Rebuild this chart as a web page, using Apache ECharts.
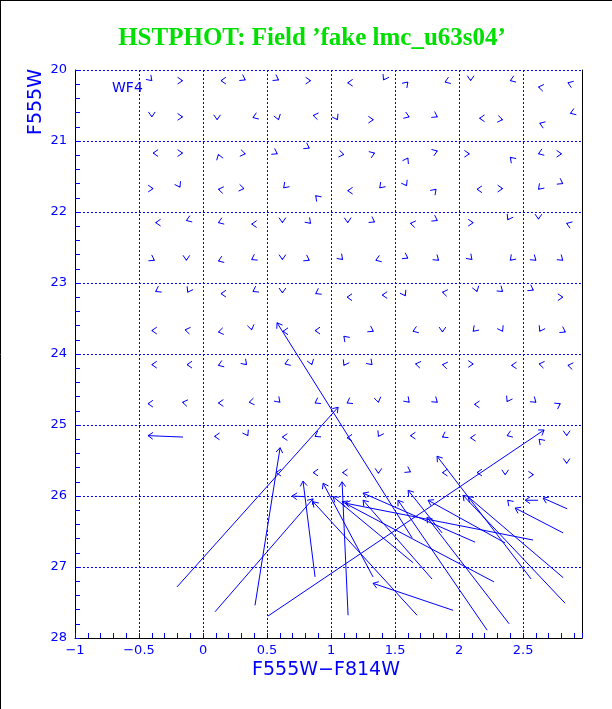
<!DOCTYPE html>
<html>
<head>
<meta charset="utf-8">
<script src="https://cdn.jsdelivr.net/npm/echarts@6/dist/echarts.min.js"></script>
<style>
html,body{margin:0;padding:0;background:#fff;}
#chart{width:612px;height:709px;}
</style>
</head>
<body>
<div id="chart"></div>
<script>
// ---- axis ticks ----
const xTicks = [-1, -0.5, 0, 0.5, 1, 1.5, 2, 2.5];
const yTicks = [20, 21, 22, 23, 24, 25, 26, 27, 28];

// ---- long arrows: tail (measured) -> head, colour F555W-F814W and magnitude F555W ----
const longTailC = [-0.203, 0.094, 0.406, 0.508, 0.875, 1.133, 1.953, 1.633, 2.563, 2.844, 2.813, 1.328, 1.672, 1.641, 2.273, 2.578, 2.125, 1.789, 2.219, 1.867, 2.391, 2.828, 2.813, 2.359, 2.617, 0.797, -0.156];
const longTailM = [27.28, 27.63, 27.54, 27.69, 27.14, 27.68, 27.61, 26.59, 27.17, 26.18, 26.52, 27.14, 27.68, 26.94, 27.21, 26.62, 26.65, 27.17, 27.89, 26.52, 27.80, 27.51, 27.15, 26.66, 26.06, 26.01, 25.17];
const longHeadC = [1.055, 0.859, 0.602, 2.664, 0.781, 1.086, 1.328, 0.578, 1.828, 2.656, 2.438, 0.938, 0.859, 1.016, 1.086, 1.109, 1.25, 1.25, 1.523, 1.602, 1.75, 2.031, 2.07, 1.758, 2.516, 0.695, -0.43];
const longHeadM = [24.75, 26.04, 25.32, 25.07, 25.79, 25.80, 27.23, 23.56, 25.44, 26.03, 26.17, 25.82, 26.08, 26.01, 26.08, 26.10, 25.96, 26.06, 26.06, 25.92, 26.30, 25.99, 26.01, 26.06, 26.06, 26.00, 25.15];

// ---- small arrows: head position and tiny displacement (head - tail) ----
const smallC = [
 -0.40,-0.16,0.14,0.33,0.59,0.84,1.13,1.41,1.60,1.89,2.09,2.40,2.62,2.85,
 -0.40,-0.16,0.11,0.39,0.59,0.86,1.05,1.33,1.61,1.83,2.16,2.34,2.63,2.87,
 -0.39,-0.16,0.12,0.33,0.58,0.83,1.10,1.34,1.60,1.83,2.08,2.40,2.62,2.80,
 -0.39,-0.18,0.12,0.32,0.63,0.88,1.13,1.38,1.59,1.82,2.14,2.34,2.62,2.81,
 -0.37,-0.13,0.12,0.38,0.62,0.84,1.13,1.34,1.62,1.83,2.11,2.38,2.62,2.84,
 -0.38,-0.13,0.12,0.38,0.62,0.83,1.09,1.35,1.60,1.84,2.10,2.40,2.60,2.81,
 -0.37,-0.12,0.14,0.39,0.62,0.88,1.125,1.40,1.58,1.87,2.14,2.34,2.58,2.81,
 -0.40,-0.14,0.12,0.38,0.625,0.875,1.10,1.33,1.64,1.87,2.11,2.34,2.63,2.83,
 -0.40,-0.125,0.12,0.34,0.64,0.85,1.10,1.32,1.66,1.87,2.11,2.41,2.625,2.85,
 -0.43,-0.16,0.12,0.36,0.60,0.875,1.125,1.37,1.61,1.83,2.12,2.375,2.60,2.79,
 0.09,0.35,0.62,0.875,1.125,1.37,1.62,1.87,2.09,2.375,2.625,2.84,
 0.57,0.86,1.09,1.37,1.62,1.87,2.14,2.36,2.58,2.84,2.38
];
const smallM = [
 20.15,20.15,20.15,20.14,20.14,20.15,20.18,20.14,20.17,20.17,20.15,20.15,20.24,20.18,
 20.66,20.66,20.70,20.67,20.70,20.64,20.70,20.70,20.66,20.66,20.68,20.70,20.75,20.61,
 21.17,21.17,21.19,21.18,21.18,21.10,21.19,21.17,21.24,21.14,21.18,21.23,21.18,21.18,
 21.67,21.65,21.68,21.67,21.66,21.77,21.70,21.66,21.63,21.68,21.68,21.67,21.68,21.60,
 22.15,22.12,22.15,22.17,22.15,22.16,22.15,22.14,22.16,22.12,22.15,22.11,22.10,22.16,
 22.68,22.68,22.69,22.67,22.67,22.68,22.67,22.68,22.65,22.68,22.67,22.68,22.68,22.68,
 23.12,23.13,23.15,23.12,23.14,23.15,23.20,23.17,23.18,23.13,23.12,23.12,23.10,23.20,
 23.67,23.66,23.69,23.66,23.68,23.67,23.75,23.68,23.68,23.69,23.68,23.68,23.68,23.69,
 24.15,24.15,24.16,24.15,24.14,24.15,24.16,24.15,24.14,24.15,24.14,24.16,24.14,24.16,
 24.70,24.68,24.69,24.68,24.68,24.69,24.69,24.68,24.68,24.68,24.71,24.67,24.68,24.70,
 25.16,25.15,25.17,25.16,25.18,25.16,25.15,25.17,25.18,25.15,25.20,25.15,
 25.67,25.67,25.67,25.68,25.66,25.67,25.67,25.70,25.70,25.54,26.06
];
const smallDC = [
 0.007,0.010,-0.010,0.009,0.009,0.010,-0.010,-0.005,0.007,-0.009,0,-0.009,-0.010,-0.009,
 0,0.010,0,-0.009,0.003,-0.010,0.005,0.010,0.009,0.009,-0.010,0.010,-0.009,-0.009,
 -0.010,0.010,-0.003,0.010,0.009,0.009,0.010,0.009,0.005,0.009,0.010,-0.007,-0.009,0.010,
 0.010,0.005,-0.010,0.010,-0.007,-0.007,-0.010,-0.007,0.005,0.007,-0.010,0.010,-0.007,0.009,
 -0.010,-0.009,-0.009,-0.010,0,0.007,0,0.009,-0.010,0.009,0.010,-0.005,0,-0.009,
 0.009,0,-0.009,-0.009,0,0.009,0.007,-0.009,0.009,0.008,0.007,-0.007,0.008,0.008,
 -0.009,-0.005,-0.010,-0.009,0,-0.009,-0.010,-0.010,0.005,-0.010,0.003,0.008,0.009,0.010,
 -0.010,-0.010,-0.010,0.002,-0.010,-0.010,-0.007,0.009,-0.009,0,-0.007,0.005,-0.005,0.009,
 -0.010,-0.010,-0.009,0.007,-0.009,0.003,-0.005,0.007,-0.010,-0.010,0.010,-0.010,-0.010,-0.010,
 -0.010,-0.010,-0.010,-0.010,0.007,-0.009,-0.009,0.002,0.007,0.008,-0.010,-0.005,0.008,0.009,
 -0.010,0.005,-0.010,-0.009,-0.010,-0.005,-0.010,-0.009,-0.010,-0.009,-0.007,0,
 -0.010,-0.010,-0.010,0,0.009,-0.010,-0.010,0,0.010,0,-0.007
];
const smallDM = [
 0.013,0,0,0.009,0.009,0,0,0.016,-0.013,0.006,0.018,0.006,-0.003,-0.006,
 0.018,0,0.018,0.006,0.017,-0.003,0.016,0,0.006,0.009,0,0.003,-0.006,0.006,
 0,0,-0.017,0.003,0.009,0.009,0.003,-0.006,-0.016,-0.006,0,-0.013,0.006,0,
 0,0.016,-0.003,0.003,0.013,-0.013,0,0.013,0.016,-0.013,0,0,0.013,0.009,
 0,0.006,0.006,0,0.018,0.013,0.018,0.009,-0.003,0.009,0,0.016,0.018,-0.006,
 0.009,0.018,0.006,0.009,0.018,0.009,0.013,0.006,0.009,0.012,0.013,0.013,0.012,0.012,
 0.009,0.016,0,0.009,0.018,0.009,0,0,0.016,-0.003,0.017,0.012,0.009,0,
 0,-0.003,0.003,0.018,0,0,-0.013,0.009,0.006,0.018,0.013,0.016,0.016,0.009,
 0,0,0.006,0.013,0.006,0.017,0.016,0.013,-0.003,-0.003,0,0,-0.003,-0.003,
 0,-0.003,0,0.003,0.013,0.009,0.009,0.018,0.013,0.012,0,0.016,0.012,-0.009,
 0,0.016,0,0.009,0,0.016,0,0.009,0,0.006,-0.013,0.018,
 0,0,0,0.018,0.009,0,0,0.018,0,0.018,-0.013
];

const BLUE = '#0000ff';
const X_MAX = 2.96;

const arrowData = [];
for (let i = 0; i < longTailC.length; i++) {
  arrowData.push([longTailC[i], longTailM[i], longHeadC[i], longHeadM[i]]);
}
for (let i = 0; i < smallC.length; i++) {
  arrowData.push([smallC[i] - smallDC[i], smallM[i] - smallDM[i], smallC[i], smallM[i]]);
}

function renderArrow(params, api) {
  const p0 = api.coord([api.value(0), api.value(1)]);
  const p1 = api.coord([api.value(2), api.value(3)]);
  const ang = Math.atan2(p1[1] - p0[1], p1[0] - p0[0]);
  const L = 6, a = 0.6;
  const b1 = [p1[0] - L * Math.cos(ang - a), p1[1] - L * Math.sin(ang - a)];
  const b2 = [p1[0] - L * Math.cos(ang + a), p1[1] - L * Math.sin(ang + a)];
  const st = { stroke: BLUE, lineWidth: 1, fill: null };
  return {
    type: 'group',
    children: [
      { type: 'line', shape: { x1: p0[0], y1: p0[1], x2: p1[0], y2: p1[1] }, style: st },
      { type: 'polyline', shape: { points: [b1, p1, b2] }, style: st }
    ]
  };
}

const labelFont = { color: BLUE, fontFamily: 'DejaVu Sans', fontSize: 13 };
const gridRect = { left: 75, right: 30, top: 70, bottom: 71, containLabel: false };
const chart = echarts.init(document.getElementById('chart'), null, { renderer: 'canvas' });
chart.setOption({
  animation: false,
  backgroundColor: '#fff',
  grid: [Object.assign({}, gridRect), Object.assign({}, gridRect)],
  xAxis: [{
    gridIndex: 0, type: 'value', min: xTicks[0], max: X_MAX, interval: 0.5,
    axisLine: { show: true, onZero: false, lineStyle: { color: '#000', width: 1 } },
    axisTick: { show: true, inside: true, length: 5, lineStyle: { color: BLUE } },
    splitLine: { show: true, lineStyle: { color: BLUE, type: [2, 2], width: 1 } },
    axisLabel: Object.assign({ margin: 6, showMaxLabel: false,
      formatter: v => String(v).replace('-', '\u2212') }, labelFont)
  }, {
    gridIndex: 1, type: 'value', min: xTicks[0], max: X_MAX, interval: 0.1, position: 'bottom',
    axisLine: { show: false, onZero: false },
    axisTick: { show: true, inside: true, length: 5, lineStyle: { color: BLUE } },
    splitLine: { show: false }, axisLabel: { show: false }
  }],
  yAxis: [{
    gridIndex: 0, type: 'value', inverse: true, min: yTicks[0], max: yTicks[yTicks.length - 1], interval: 1,
    axisLine: { show: true, onZero: false, lineStyle: { color: '#000', width: 1 } },
    axisTick: { show: true, inside: true, length: 5, lineStyle: { color: BLUE } },
    splitLine: { show: true, lineStyle: { color: BLUE, type: [2, 2], width: 1 } },
    axisLabel: Object.assign({ margin: 8 }, labelFont)
  }, {
    gridIndex: 0, type: 'value', inverse: true, min: yTicks[0], max: yTicks[yTicks.length - 1], position: 'right',
    axisLine: { show: true, onZero: false, lineStyle: { color: '#000', width: 1 } },
    axisTick: { show: false }, splitLine: { show: false }, axisLabel: { show: false }
  }, {
    gridIndex: 1, type: 'value', inverse: true, min: yTicks[0], max: yTicks[yTicks.length - 1], interval: 0.2, position: 'left',
    axisLine: { show: false, onZero: false },
    axisTick: { show: true, inside: true, length: 5, lineStyle: { color: BLUE } },
    splitLine: { show: false }, axisLabel: { show: false }
  }],
  graphic: [
    { type: 'line', shape: { x1: 0.5, y1: 0, x2: 0.5, y2: 709 }, style: { stroke: '#000', lineWidth: 1 } },
    { type: 'line', shape: { x1: 0, y1: 0.5, x2: 612, y2: 0.5 }, style: { stroke: '#000', lineWidth: 1 } },
    { type: 'text', x: 312, y: 39, style: { text: 'HSTPHOT: Field \u2019fake lmc_u63s04\u2019', fill: '#00e000',
      font: 'bold 25px "Liberation Serif"', textAlign: 'center', textVerticalAlign: 'middle', align: 'center', verticalAlign: 'middle' } },
    { type: 'text', x: 112, y: 88, style: { text: 'WF4', fill: BLUE, font: '14px "DejaVu Sans"',
      textAlign: 'left', textVerticalAlign: 'middle', align: 'left', verticalAlign: 'middle' } },
    { type: 'text', x: 36, y: 102, rotation: Math.PI / 2, style: { text: 'F555W', fill: BLUE, font: '19px "DejaVu Sans"',
      textAlign: 'center', textVerticalAlign: 'middle', align: 'center', verticalAlign: 'middle' } },
    { type: 'text', x: 326, y: 670, style: { text: 'F555W\u2212F814W', fill: BLUE, font: '19px "DejaVu Sans"',
      textAlign: 'center', textVerticalAlign: 'middle', align: 'center', verticalAlign: 'middle' } }
  ],
  series: [{
    type: 'custom',
    coordinateSystem: 'cartesian2d',
    xAxisIndex: 0, yAxisIndex: 0,
    renderItem: renderArrow,
    encode: { x: [0, 2], y: [1, 3] },
    data: arrowData,
    clip: true,
    silent: true
  }]
});
</script>
</body>
</html>
